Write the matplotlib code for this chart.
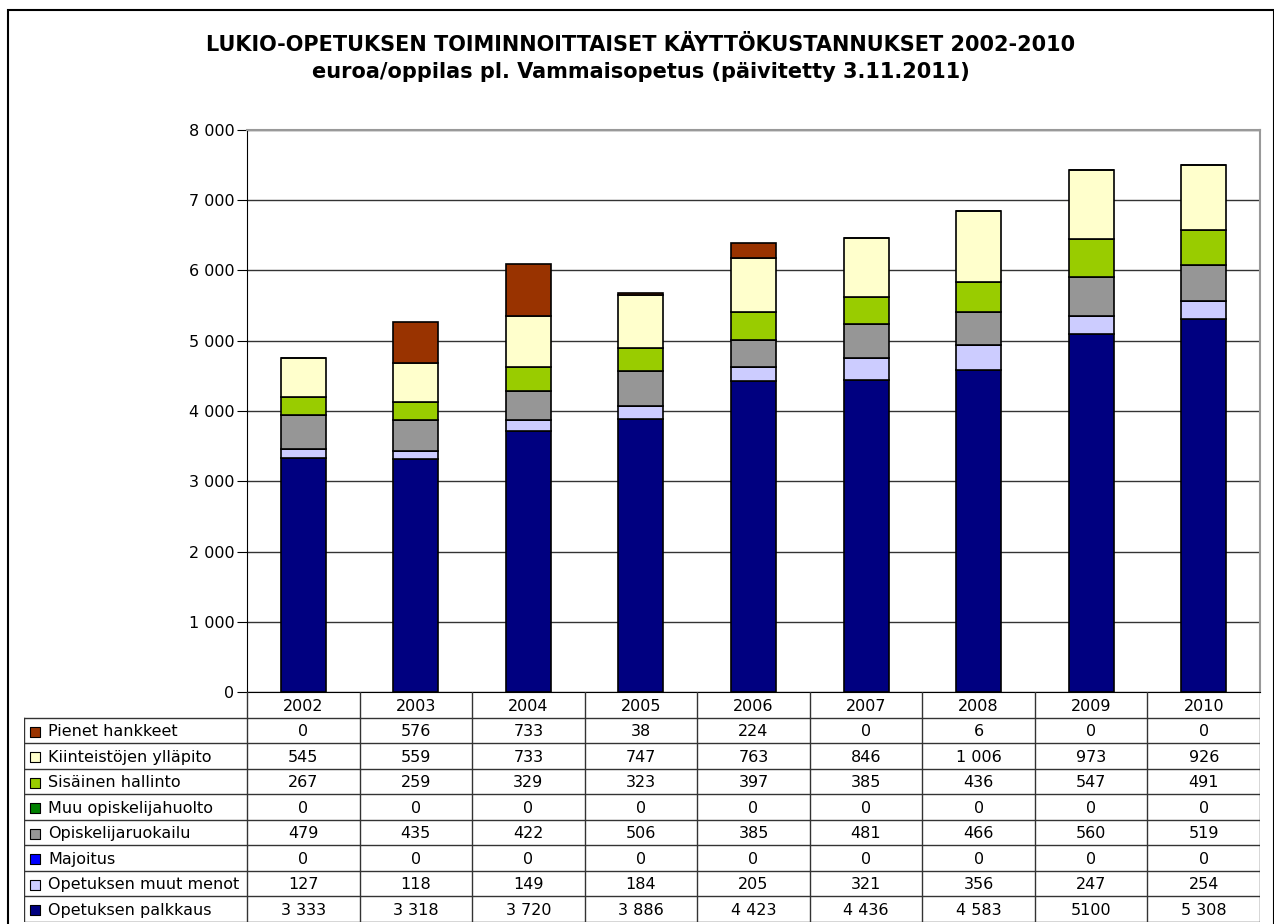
import matplotlib
import matplotlib.pyplot as plt
from matplotlib.patches import Rectangle
from matplotlib.ticker import FuncFormatter

matplotlib.use("agg")

plt.rcParams["font.family"] = ["DejaVu Sans"]

# data (euroa/oppilas)
years = ["2002", "2003", "2004", "2005", "2006", "2007", "2008", "2009", "2010"]

opetuksen_palkkaus = [3333, 3318, 3720, 3886, 4423, 4436, 4583, 5100, 5308]
opetuksen_muut_menot = [127, 118, 149, 184, 205, 321, 356, 247, 254]
majoitus = [0, 0, 0, 0, 0, 0, 0, 0, 0]
opiskelijaruokailu = [479, 435, 422, 506, 385, 481, 466, 560, 519]
muu_opiskelijahuolto = [0, 0, 0, 0, 0, 0, 0, 0, 0]
sisainen_hallinto = [267, 259, 329, 323, 397, 385, 436, 547, 491]
kiinteistojen_yllapito = [545, 559, 733, 747, 763, 846, 1006, 973, 926]
pienet_hankkeet = [0, 576, 733, 38, 224, 0, 6, 0, 0]

# stacking order, bottom -> top
series = [
    ("Opetuksen palkkaus", opetuksen_palkkaus, "#000080"),
    ("Opetuksen muut menot", opetuksen_muut_menot, "#CCCCFF"),
    ("Majoitus", majoitus, "#0000FF"),
    ("Opiskelijaruokailu", opiskelijaruokailu, "#969696"),
    ("Muu opiskelijahuolto", muu_opiskelijahuolto, "#008000"),
    ("Sisäinen hallinto", sisainen_hallinto, "#99CC00"),
    ("Kiinteistöjen ylläpito", kiinteistojen_yllapito, "#FFFFCC"),
    ("Pienet hankkeet", pienet_hankkeet, "#993300"),
]

# the source table shows this one cell without a thousands space
text_overrides = {("Opetuksen palkkaus", 7): "5100"}


def fmt(v):
    return "{:,}".format(int(v)).replace(",", " ")


W, H = 1274, 924
fig = plt.figure(figsize=(W / 100, H / 100), dpi=100)

# outer chart border
fig.patches.append(Rectangle((8 / W, -0.01), (W - 8) / W, (H - 10) / H + 0.01,
                             transform=fig.transFigure, fill=False,
                             edgecolor="black", linewidth=1.5))

fig.text(641 / W, 1 - 45 / H, "LUKIO-OPETUKSEN TOIMINNOITTAISET KÄYTTÖKUSTANNUKSET 2002-2010",
         ha="center", va="center", fontsize=15, fontweight="bold")
fig.text(641 / W, 1 - 72 / H, "euroa/oppilas pl. Vammaisopetus (päivitetty 3.11.2011)",
         ha="center", va="center", fontsize=15, fontweight="bold")

# plot area
left, right, top, bottom = 247, 1260, 130, 692
ax = fig.add_axes([left / W, 1 - bottom / H, (right - left) / W, (bottom - top) / H])

x = list(range(len(years)))
base = [0] * len(years)
for name, vals, color in series:
    ax.bar(x, vals, 0.4, bottom=base, color=color, edgecolor="black",
           linewidth=1.2, zorder=3)
    base = [b + v for b, v in zip(base, vals)]

ax.set_xlim(-0.5, len(years) - 0.5)
ax.set_ylim(0, 8000)
ax.set_yticks(range(0, 8001, 1000))
ax.yaxis.set_major_formatter(FuncFormatter(lambda v, p: fmt(v)))
ax.tick_params(axis="y", labelsize=11.5, length=7, direction="out", pad=2)
ax.set_xticks([])
ax.grid(axis="y", color="#333333", linewidth=1, zorder=0)
ax.spines["left"].set_color("black")
ax.spines["bottom"].set_color("black")
ax.spines["top"].set_color("#999999")
ax.spines["right"].set_color("#999999")
ax.spines["top"].set_linewidth(1.5)
ax.spines["right"].set_linewidth(1.5)

# data table under the chart
tleft, tbottom = 24, 921.5
unit = (right - left) / len(years)
xmin = -0.5 - (left - tleft) / unit
nrows = len(series) + 1
tab = fig.add_axes([tleft / W, 1 - tbottom / H, (right - tleft) / W, (tbottom - bottom) / H])
tab.set_xlim(xmin, len(years) - 0.5)
tab.set_ylim(nrows, 0)
tab.axis("off")

line_kw = dict(color="#333333", linewidth=1)
for r in range(1, nrows + 1):
    tab.plot([xmin, len(years) - 0.5], [r, r], **line_kw)
for k in range(len(years) + 1):
    tab.plot([k - 0.5, k - 0.5], [0, nrows], **line_kw)
tab.plot([xmin, xmin], [1, nrows], **line_kw)

for i, yr in enumerate(years):
    tab.text(i, 0.55, yr, ha="center", va="center", fontsize=11.5)

for r, (name, vals, color) in enumerate(reversed(series), start=1):
    tab.scatter([xmin + 11 / unit], [r + 0.55], marker="s", s=45, color=color,
                edgecolor="black", linewidth=0.8, clip_on=False, zorder=3)
    tab.text(xmin + 24 / unit, r + 0.55, name, ha="left", va="center", fontsize=11.5)
    for i, v in enumerate(vals):
        label = text_overrides.get((name, i), fmt(v))
        tab.text(i, r + 0.55, label, ha="center", va="center", fontsize=11.5)

plt.savefig("out.png", dpi=100)
